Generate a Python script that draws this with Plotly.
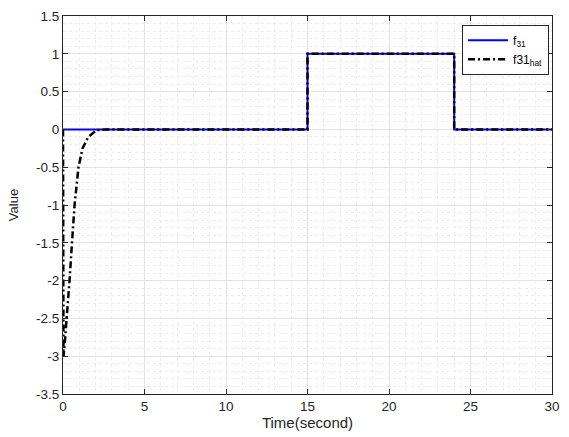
import plotly.graph_objects as go

# True fault signal f31
t_true = [0, 15, 15, 24, 24, 30]
f31 = [0, 0, 1, 1, 0, 0]

# Estimated fault f31_hat
t_hat = [0, 0.015, 0.03, 0.1, 0.24, 0.4, 0.55, 0.71, 0.95, 1.2, 1.55, 2.06, 2.6, 15, 15, 24, 24, 30]
f31_hat = [0, -1.5, -3.0, -2.85, -2.5, -2.0, -1.5, -1.0, -0.5, -0.25, -0.1, -0.01, 0, 0, 1, 1, 0, 0]

x_ticks = [0, 5, 10, 15, 20, 25, 30]
y_ticks = [1.5, 1, 0.5, 0, -0.5, -1, -1.5, -2, -2.5, -3, -3.5]

FONT = "Liberation Sans, Arial, sans-serif"

fig = go.Figure()
fig.add_trace(go.Scatter(x=t_true, y=f31, mode="lines", name="f<sub>31</sub>",
                         line=dict(color="#0000ff", width=2)))
fig.add_trace(go.Scatter(x=t_hat, y=f31_hat, mode="lines", name="f31<sub>hat</sub>",
                         line=dict(color="#000000", width=2.5, dash="7px,3px,2px,3px")))

axis_common = dict(
    showline=True, linecolor="#262626", linewidth=1, mirror="ticks",
    ticks="inside", ticklen=5, tickcolor="#262626",
    showgrid=True, gridcolor="#e3e3e3", gridwidth=1,
    zeroline=False,
    tickfont=dict(family=FONT, size=13.5, color="#262626"),
)

fig.update_xaxes(range=[0, 30], tickvals=x_ticks, ticktext=[str(v) for v in x_ticks],
                 title=dict(text="Time(second)", standoff=3,
                            font=dict(family=FONT, size=15, color="#262626")),
                 minor=dict(dtick=1, showgrid=True, gridcolor="#ececec", griddash="dot", gridwidth=1),
                 **axis_common)
fig.update_yaxes(range=[-3.5, 1.5], tickvals=y_ticks, ticktext=[f"{v:g}" for v in y_ticks],
                 title=dict(text="Value", standoff=14,
                            font=dict(family=FONT, size=13, color="#262626")),
                 minor=dict(dtick=0.1, showgrid=True, gridcolor="#ececec", griddash="dot", gridwidth=1),
                 **axis_common)

fig.update_layout(
    width=569, height=437,
    margin=dict(l=63, r=9, t=16, b=38),
    plot_bgcolor="white", paper_bgcolor="white",
    showlegend=True,
    legend=dict(x=0.994, y=0.977, xanchor="right", yanchor="top",
                bgcolor="white", bordercolor="#262626", borderwidth=1,
                font=dict(family=FONT, size=12, color="#000000"),
                tracegroupgap=0, itemwidth=40, entrywidth=100, entrywidthmode="pixels"),
)

fig.write_html("out.html")
